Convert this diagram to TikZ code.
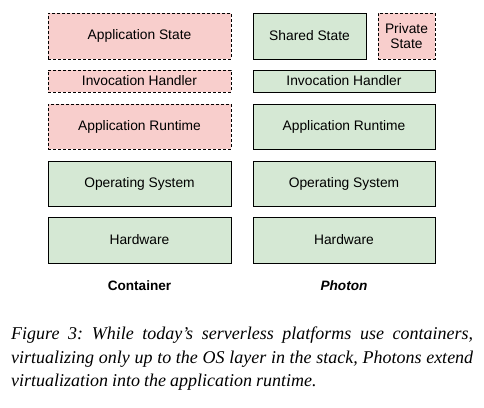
\documentclass[tikz,border=0pt]{standalone}
\usepackage{fontspec}
\setmainfont{Liberation Serif}
\setsansfont{Liberation Sans}
\begin{document}
\begin{tikzpicture}[x=1pt,y=-1pt,
  layer/.style={draw=black,line width=0.9pt,inner sep=0pt,align=center,
    font=\sffamily\fontsize{13.8}{15}\selectfont},
  green/.style={layer,fill=grn},
  red/.style={layer,fill=pnk,dash pattern=on 3pt off 2pt},
  lbl/.style={inner sep=0pt,font=\sffamily\bfseries\fontsize{13.6}{15}\selectfont}]
\definecolor{grn}{HTML}{D5E8D4}
\definecolor{pnk}{HTML}{F8CECC}
\useasboundingbox (0,0) rectangle (484,407);
% Container
\node[red,minimum width=183pt,minimum height=46pt] (cas) at (139.5,36) {Application State};
\node[red,minimum width=183pt,minimum height=22pt] (cih) at (139.5,81) {Invocation Handler};
\node[red,minimum width=183pt,minimum height=45pt] (car) at (139.5,126.5) {Application Runtime};
\node[green,minimum width=183pt,minimum height=45pt] (cos) at (139.5,183.5) {Operating System};
\node[green,minimum width=183pt,minimum height=46pt] (chw) at (139.5,240) {Hardware};
\node[lbl] (clbl) at (139.5,286) {Container};
% Photon
\node[green,minimum width=113pt,minimum height=46pt] (pss) at (309.5,36) {Shared State};
\node[red,minimum width=57pt,minimum height=46pt] (pps) at (406.5,36) {Private\\State};
\node[green,minimum width=182pt,minimum height=22pt] (pih) at (344,81) {Invocation Handler};
\node[green,minimum width=182pt,minimum height=45pt] (par) at (344,126.5) {Application Runtime};
\node[green,minimum width=182pt,minimum height=45pt] (pos) at (344,183.5) {Operating System};
\node[green,minimum width=182pt,minimum height=46pt] (phw) at (344,240) {Hardware};
\node[lbl,font=\sffamily\bfseries\itshape\fontsize{13.6}{15}\selectfont] (plbl) at (344,286) {Photon};
% Caption
\node[anchor=north west,inner sep=0pt,text width=462pt,align=justify,
  font=\itshape\fontsize{18}{23.5}\selectfont] (cap) at (11,327)
  {\frenchspacing\spaceskip=0.22em plus 1em minus 0.08em\relax\hyphenpenalty=10000\relax
   Figure 3: While today’s serverless platforms use containers,\linebreak
   virtualizing only up to the OS layer in the stack, Photons extend\linebreak
   virtualization into the application runtime.};
\end{tikzpicture}
\end{document}
